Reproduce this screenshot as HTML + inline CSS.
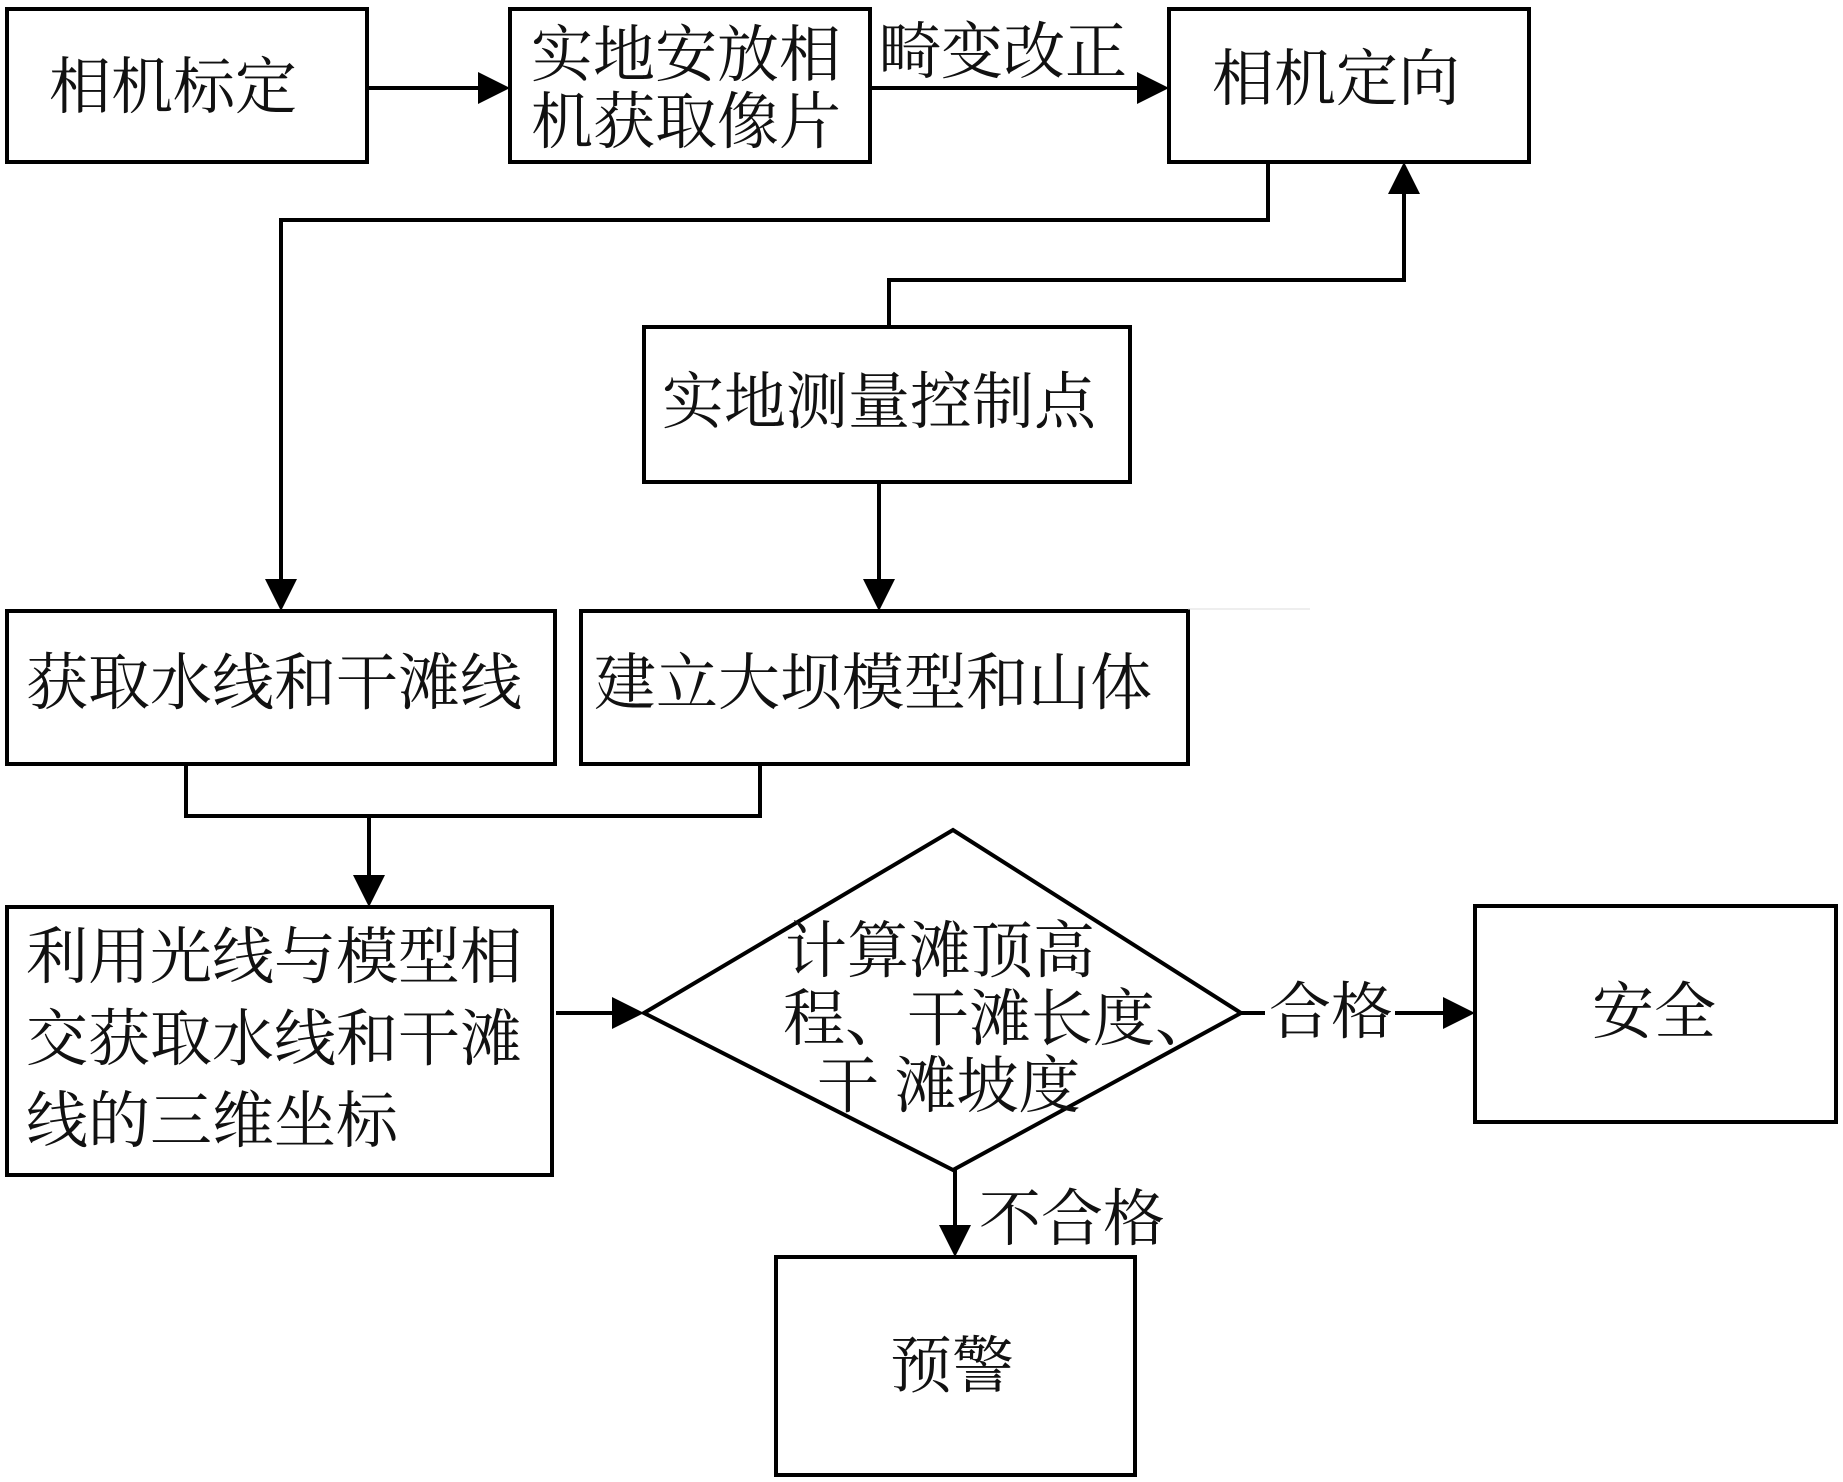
<!DOCTYPE html>
<html><head><meta charset="utf-8"><style>
body{margin:0;background:#fff;}
#c{position:relative;width:1843px;height:1482px;overflow:hidden;font-family:"Liberation Serif","Noto Serif CJK SC",serif;color:#111;}
.t{position:absolute;font-size:62px;line-height:1;white-space:nowrap;}
svg{position:absolute;left:0;top:0;}
</style></head><body><div id="c">
<svg width="1843" height="1482" viewBox="0 0 1843 1482">
<defs><marker id="a" markerWidth="8" markerHeight="8" refX="7" refY="4" orient="auto" markerUnits="strokeWidth"><path d="M0,0 L8,4 L0,8 z" fill="#000"/></marker></defs>
<g fill="none" stroke="#000" stroke-width="4">
<rect x="7" y="9" width="360" height="153"/>
<rect x="510" y="9" width="360" height="153"/>
<rect x="1169" y="9" width="360" height="153"/>
<rect x="644" y="327" width="486" height="155"/>
<rect x="7" y="611" width="548" height="153"/>
<rect x="581" y="611" width="607" height="153"/>
<rect x="7" y="907" width="545" height="268"/>
<rect x="1475" y="906" width="361" height="216"/>
<rect x="776" y="1257" width="359" height="218"/>
<polygon points="644,1013 953,830 1241,1013 953,1170"/>
<path d="M367 88 H506" marker-end="url(#a)"/>
<path d="M870 88 H1165" marker-end="url(#a)"/>
<path d="M1268 162 V220 H281 V607" marker-end="url(#a)"/>
<path d="M889 327 V280 H1404 V166" marker-end="url(#a)"/>
<path d="M879 482 V607" marker-end="url(#a)"/>
<path d="M186 764 V816 H760 V764"/>
<path d="M369 816 V903" marker-end="url(#a)"/>
<path d="M556 1013 H640" marker-end="url(#a)"/>
<path d="M1241 1013 H1265"/>
<path d="M1395 1013 H1471" marker-end="url(#a)"/>
<path d="M955 1170 V1253" marker-end="url(#a)"/>
</g>
<line x1="1188" y1="609" x2="1310" y2="609" stroke="#ddd" stroke-width="1"/>
</svg>
<div class="t" style="left:49px;top:57px;">相机标定</div>
<div class="t" style="left:531px;top:25px;">实地安放相</div>
<div class="t" style="left:531px;top:92px;">机获取像片</div>
<div class="t" style="left:879px;top:22px;">畸变改正</div>
<div class="t" style="left:1212px;top:49px;">相机定向</div>
<div class="t" style="left:662px;top:372px;">实地测量控制点</div>
<div class="t" style="left:26px;top:653px;">获取水线和干滩线</div>
<div class="t" style="left:594px;top:653px;">建立大坝模型和山体</div>
<div class="t" style="left:26px;top:927px;">利用光线与模型相</div>
<div class="t" style="left:26px;top:1009px;">交获取水线和干滩</div>
<div class="t" style="left:26px;top:1091px;">线的三维坐标</div>
<div class="t" style="left:785px;top:921px;">计算滩顶高</div>
<div class="t" style="left:783px;top:989px;">程、干滩长度、</div>
<div class="t" style="left:817px;top:1056px;">干 滩坡度</div>
<div class="t" style="left:1269px;top:982px;">合格</div>
<div class="t" style="left:1592px;top:982px;">安全</div>
<div class="t" style="left:979px;top:1189px;">不合格</div>
<div class="t" style="left:890px;top:1336px;">预警</div>
</div></body></html>
